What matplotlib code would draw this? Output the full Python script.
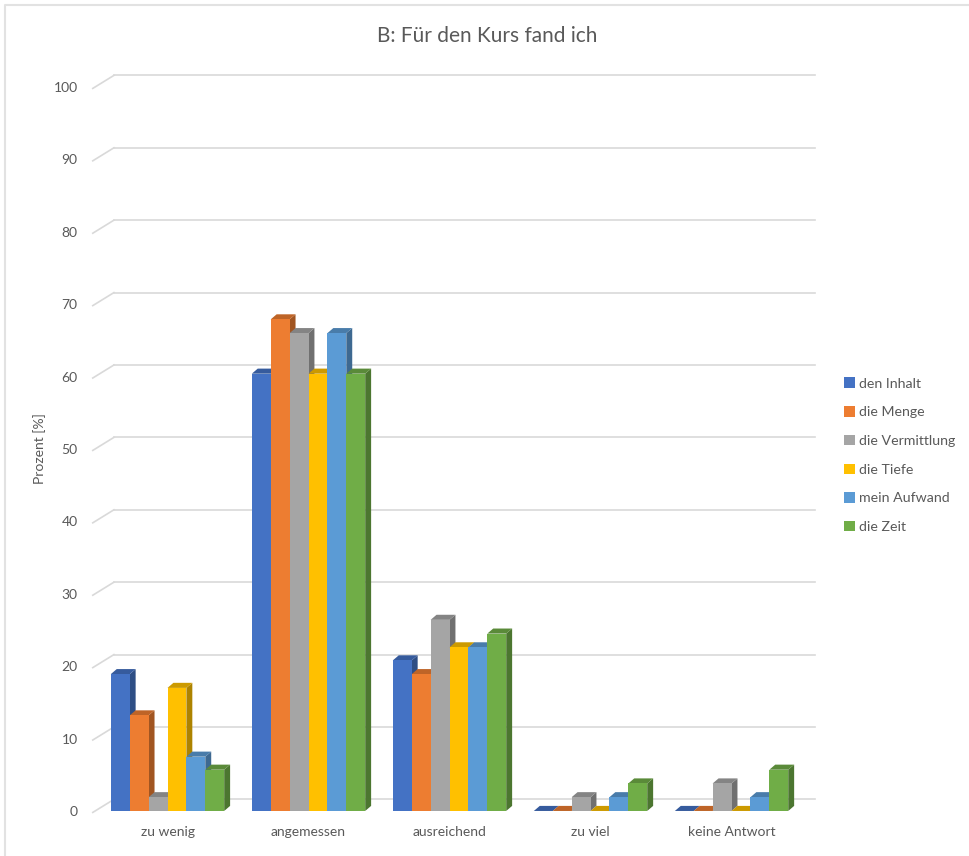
import numpy as np
import matplotlib
matplotlib.use("Agg")
from matplotlib import pyplot as plt
from matplotlib.patches import Polygon, Patch
from matplotlib.lines import Line2D

plt.rcParams['font.family'] = ['Lato', 'DejaVu Sans']

# data (percent of answers)
categories = ["zu wenig", "angemessen", "ausreichend", "zu viel", "keine Antwort"]
series = ["den Inhalt", "die Menge", "die Vermittlung", "die Tiefe", "mein Aufwand", "die Zeit"]
den_inhalt = [18.9, 60.4, 20.8, 0.0, 0.0]
die_menge = [13.2, 67.9, 18.9, 0.0, 0.0]
die_vermittlung = [1.9, 66.0, 26.4, 1.9, 3.8]
die_tiefe = [17.0, 60.4, 22.6, 0.0, 0.0]
mein_aufwand = [7.5, 66.0, 22.6, 1.9, 1.9]
die_zeit = [5.7, 60.4, 24.5, 3.8, 5.7]
values = [den_inhalt, die_menge, die_vermittlung, die_tiefe, mein_aufwand, die_zeit]
yticks = [0, 10, 20, 30, 40, 50, 60, 70, 80, 90, 100]

colors = ['#4472C4', '#ED7D31', '#A5A5A5', '#FFC000', '#5B9BD5', '#70AD47']
txt = '#595959'
grid_c = '#D9D9D9'

def shade(c, f):
    r, g, b = matplotlib.colors.to_rgb(c)
    return (r * f, g * f, b * f)

fig = plt.figure(figsize=(9.69, 8.56), dpi=100)
ax = fig.add_axes([0.1001, 0.0526, 0.7276, 0.8458])
ax.set_xlim(-0.5, 4.5)
ax.set_ylim(0, 100)
for s in ax.spines.values():
    s.set_visible(False)

# 3d look: wall offset and bar depth (data units)
wdx, wdy = 0.12, 1.6
bdx, bdy = 0.042, 0.7
bw = 0.134

# back wall gridlines + side wall diagonals
for t in yticks:
    ax.plot([-0.5 + wdx, 4.5 + 0.09], [t + wdy, t + wdy], color=grid_c, lw=1.2, zorder=1, clip_on=False)
    ax.plot([-0.53, -0.5 + wdx], [t - 0.2, t + wdy], color=grid_c, lw=1.2, zorder=1, clip_on=False)

x = np.arange(len(categories))
for i, vals in enumerate(values):
    c = colors[i]
    for j, v in enumerate(vals):
        x0 = x[j] - 3 * bw + i * bw
        x1 = x0 + bw
        z = 2 + i
        side = Polygon([(x1, 0), (x1 + bdx, bdy), (x1 + bdx, v + bdy), (x1, v)],
                       closed=True, facecolor=shade(c, 0.68), edgecolor='none', zorder=z)
        top = Polygon([(x0, v), (x0 + bdx, v + bdy), (x1 + bdx, v + bdy), (x1, v)],
                      closed=True, facecolor=shade(c, 0.8), edgecolor='none', zorder=z)
        ax.add_patch(side)
        ax.add_patch(top)
        if v > 0:
            ax.bar(x0, v, width=bw, align='edge', color=c, edgecolor='none', zorder=z)

ax.set_yticks(yticks)
ax.set_xticks(x)
ax.set_xticklabels(categories)
ax.tick_params(axis='y', length=0, pad=14, labelsize=10, labelcolor=txt)
ax.tick_params(axis='x', length=0, pad=11, labelsize=10, labelcolor=txt)
ax.set_ylabel("Prozent [%]", fontsize=10, color=txt, labelpad=5)

fig.text(0.503, 0.958, "B: Für den Kurs fand ich", ha='center', va='center', fontsize=15, color=txt)

handles = [Patch(facecolor=c, edgecolor='none') for c in colors]
fig.legend(handles, series, loc='upper left', bbox_to_anchor=(0.8713, 0.559), frameon=False,
           fontsize=10.2, labelcolor=txt, handlelength=0.75, handleheight=0.75,
           handletextpad=0.3, labelspacing=1.17, borderpad=0, borderaxespad=0)

# chart frame (only top/left edges are inside the picture)
fig.add_artist(Line2D([0.0052, 0.0052, 1.0], [0.0, 0.9942, 0.9942], transform=fig.transFigure,
                      color='#E2E2E2', lw=1.5))

fig.savefig("out.png", dpi=100)
